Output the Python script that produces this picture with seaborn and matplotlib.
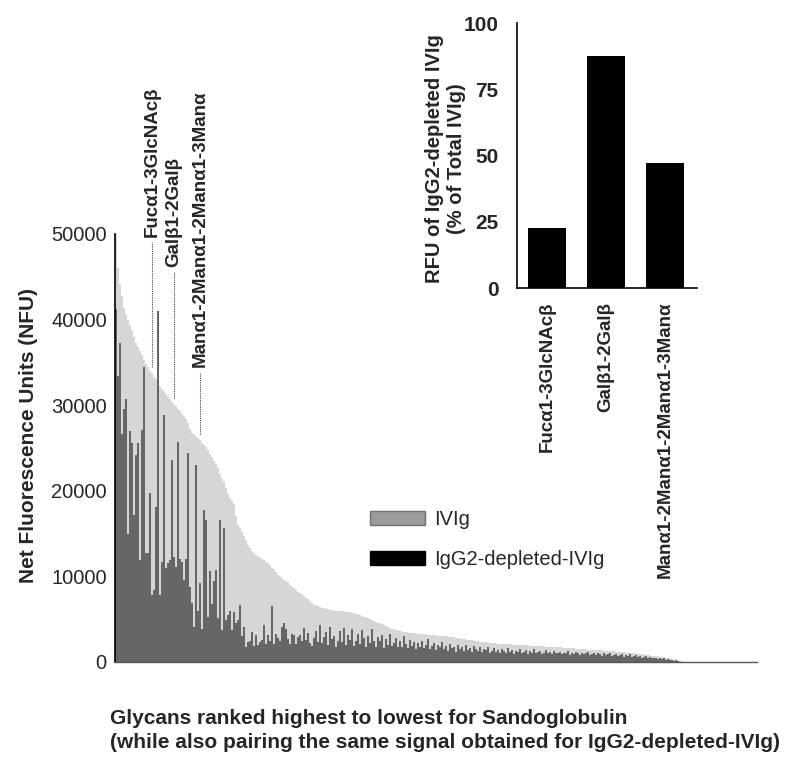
import numpy as np
import pandas as pd
import matplotlib
matplotlib.use('Agg')
import matplotlib.pyplot as plt
from matplotlib.patches import Patch
import seaborn as sns

# IVIg (Sandoglobulin) signal, glycans ranked highest -> lowest, in 1000 NFU
ivig_head = [50.0, 46.0, 44.2, 42.8, 41.4, 40.6, 40.0, 39.4, 38.8, 38.0,
             37.2, 36.8, 36.3, 35.9, 35.3, 34.8, 34.4, 34.0, 33.7, 33.3,
             33.0, 32.6, 32.2, 31.9, 31.6, 31.3, 31.0, 30.7, 30.4, 30.1,
             29.9, 29.6, 29.3, 29.0, 28.7, 28.4, 27.9, 27.2, 26.8, 26.6,
             26.4, 26.2, 25.9, 25.6, 25.4, 25.1, 24.7, 24.3, 23.9, 23.5,
             23.1, 22.6, 22.0, 21.4, 21.0, 20.3, 19.6, 19.2, 18.8, 18.4,
             17.0, 16.0, 15.6, 15.2, 14.7, 14.2, 13.7, 13.3, 13.0, 12.7,
             12.5, 12.3, 12.2, 12.0, 11.9, 11.7, 11.5, 11.3, 11.0, 10.8,
             10.5, 10.2, 10.0, 9.8, 9.6, 9.5, 9.3, 9.0, 8.8, 8.6,
             8.4, 8.2, 8.1, 7.9, 7.7, 7.5, 7.3, 7.1, 6.9, 6.7]
ivig_mid = [6.6, 6.5, 6.4, 6.3, 6.3, 6.2, 6.2, 6.1, 6.1, 6.0,
            6.0, 6.0, 5.9, 5.9, 5.9, 5.8, 5.8, 5.8, 5.7, 5.7,
            5.6, 5.6, 5.5, 5.4, 5.3, 5.2, 5.1, 5.0, 4.9, 4.8,
            4.7, 4.6, 4.5, 4.4, 4.3, 4.2, 4.1, 4.0, 3.9, 3.8,
            3.75, 3.7, 3.65, 3.6, 3.55, 3.5, 3.45, 3.42, 3.4, 3.38,
            3.35, 3.32, 3.3, 3.27, 3.25, 3.22, 3.2, 3.18, 3.15, 3.12,
            3.1, 3.07, 3.05, 3.02, 3.0, 2.97, 2.95, 2.92, 2.9, 2.87,
            2.84, 2.8, 2.76, 2.72, 2.68, 2.64, 2.6, 2.56, 2.52, 2.48,
            2.44, 2.4, 2.37, 2.34, 2.31, 2.28, 2.25, 2.22, 2.2, 2.18,
            2.16, 2.14, 2.12, 2.1, 2.08, 2.06, 2.05, 2.04, 2.03, 2.02]
ivig_tail = [2.0, 1.98, 1.97, 1.96, 1.94, 1.93, 1.92, 1.9, 1.89, 1.88,
             1.86, 1.85, 1.84, 1.83, 1.81, 1.8, 1.79, 1.78, 1.77, 1.76,
             1.75, 1.73, 1.71, 1.69, 1.67, 1.65, 1.63, 1.61, 1.59, 1.57,
             1.55, 1.53, 1.51, 1.5, 1.48, 1.47, 1.45, 1.44, 1.42, 1.41,
             1.4, 1.38, 1.36, 1.34, 1.32, 1.3, 1.28, 1.26, 1.24, 1.22,
             1.2, 1.18, 1.16, 1.14, 1.12, 1.1, 1.08, 1.06, 1.04, 1.02,
             1.0, 0.98, 0.95, 0.92, 0.88, 0.85, 0.82, 0.78, 0.75, 0.72,
             0.68, 0.65, 0.62, 0.58, 0.55, 0.5, 0.45, 0.4, 0.36, 0.32,
             0.28, 0.22, 0.16, 0.1]

# same glycans, IgG2-depleted IVIg, in 1000 NFU
depl_head = [41.2, 33.4, 37.3, 26.6, 29.5, 30.7, 15.0, 27.0, 25.6, 17.2,
             24.2, 25.6, 11.9, 27.1, 34.4, 12.7, 12.7, 19.7, 7.8, 8.4,
             18.1, 41.0, 7.8, 11.7, 28.9, 11.0, 11.5, 11.9, 23.6, 12.2,
             11.1, 25.7, 12.0, 11.7, 9.6, 12.0, 24.4, 8.8, 6.9, 4.1,
             23.0, 6.0, 9.2, 3.9, 17.8, 16.6, 5.3, 10.6, 6.8, 9.4,
             10.7, 5.1, 16.6, 3.7, 15.6, 4.9, 5.5, 6.0, 3.7, 5.8,
             4.5, 4.9, 6.7, 3.0, 4.1, 1.8, 2.3, 2.5, 3.5, 1.9,
             3.1, 2.0, 2.3, 2.6, 4.3, 2.1, 3.1, 2.5, 6.5, 2.1,
             3.3, 2.8, 2.5, 4.1, 4.5, 3.9, 2.7, 2.1, 3.3, 3.1,
             2.1, 2.9, 3.2, 2.4, 4.0, 2.6, 3.4, 2.2, 1.9, 2.8]
depl_mid = [3.6, 2.3, 4.3, 2.2, 2.9, 3.5, 2.0, 4.1, 2.7, 3.0,
            1.8, 2.5, 3.6, 2.3, 4.0, 2.0, 3.1, 2.6, 3.8, 1.9,
            2.4, 3.3, 2.1, 3.7, 2.8, 1.7, 3.0, 2.2, 3.9, 2.5,
            1.8, 2.9, 2.4, 3.1, 1.6, 2.7, 2.0, 3.3, 1.9, 2.2,
            2.8, 1.7, 2.5, 1.8, 3.0, 2.1, 1.6, 2.6, 1.9, 2.3,
            1.5, 2.2, 1.8, 2.4, 1.6, 2.0, 2.7, 1.5, 1.9, 2.2,
            1.4, 2.0, 1.7, 2.3, 1.5, 1.9, 1.3, 2.1, 1.6, 1.8,
            1.2, 2.0, 1.5, 1.8, 1.3, 2.0, 1.4, 1.6, 1.2, 1.9,
            1.5, 1.3, 1.7, 1.2, 1.5, 1.4, 1.8, 1.1, 1.3, 1.6,
            1.2, 1.4, 1.0, 1.5, 1.3, 1.1, 1.6, 1.2, 1.4, 0.9]
depl_tail = [1.3, 1.2, 1.5, 1.0, 1.2, 1.4, 0.9, 1.3, 1.1, 1.5,
             1.0, 1.2, 1.3, 0.9, 1.1, 1.4, 1.0, 1.2, 0.9, 1.3,
             1.1, 1.0, 1.2, 0.9, 1.1, 1.0, 1.3, 0.8, 1.1, 0.9,
             1.2, 1.0, 0.8, 1.1, 0.9, 1.0, 1.2, 0.8, 0.9, 1.1,
             0.8, 1.0, 0.9, 0.7, 1.0, 0.8, 0.9, 1.1, 0.7, 0.8,
             0.9, 0.7, 0.8, 0.9, 0.6, 0.8, 0.7, 0.9, 0.6, 0.7,
             0.8, 0.6, 0.7, 0.5, 0.6, 0.7, 0.4, 0.6, 0.5, 0.4,
             0.5, 0.3, 0.4, 0.3, 0.4, 0.2, 0.3, 0.2, 0.25, 0.15,
             0.2, 0.1, 0.0, 0.0]

glycans = ['Fucα1-3GlcNAcβ', 'Galβ1-2Galβ', 'Manα1-2Manα1-2Manα1-3Manα']
glycan_rank = [18, 29, 42]
pct_of_total = [22.6, 87.5, 47.0]

ivig = np.array(ivig_head + ivig_mid + ivig_tail) * 1000
depl = np.array(depl_head + depl_mid + depl_tail) * 1000
df = pd.DataFrame({'rank': np.arange(len(ivig)), 'ivig': ivig, 'depl': depl})
inset_df = pd.DataFrame({'glycan': glycans, 'pct': pct_of_total})

sns.set_style('white')
plt.rcParams['font.family'] = ['Liberation Sans', 'DejaVu Sans']

fig = plt.figure(figsize=(8, 7.67), dpi=100)
ax = fig.add_axes([0.144, 0.137, 0.8025, 0.558])

sns.barplot(data=df, x='rank', y='ivig', native_scale=True, color='#d6d6d6',
            saturation=1, width=0.85, linewidth=0, errorbar=None, ax=ax)
sns.barplot(data=df, x='rank', y='depl', native_scale=True, color='#666666',
            saturation=1, width=0.85, linewidth=0, errorbar=None, ax=ax)

ax.set_xlim(-0.5, 320.5)
ax.set_ylim(0, 50000)
ax.set_xticks([])
ax.set_xlabel('')
ax.set_yticks([0, 10000, 20000, 30000, 40000, 50000])
ax.set_yticklabels(['0', '10000', '20000', '30000', '40000', '50000'])
ax.tick_params(axis='y', direction='out', length=5, width=1, labelsize=14.5, pad=1, color='black')
for s in ['top', 'right']:
    ax.spines[s].set_visible(False)
ax.spines['left'].set_color('black')
ax.spines['left'].set_linewidth(1.2)
ax.spines['bottom'].set_color('#555555')
ax.spines['bottom'].set_linewidth(1)
ax.set_ylabel('Net Fluorescence Units (NFU)', fontsize=15, fontweight='bold')
ax.yaxis.set_label_coords(-0.12, 0.53)

# labelled glycans with dotted leaders
label_lift = [16000, 16000, 8500]
for name, r, lift in zip(glycans, glycan_rank, label_lift):
    top = df.ivig[r]
    ax.plot([r, r], [top + 700, top + lift - 600], ls=(0, (1, 1)), lw=0.8,
            color='#444444', clip_on=False)
    ax.text(r, top + lift, name, rotation=90, ha='center', va='bottom',
            fontsize=13.5, fontweight='bold', clip_on=False)

handles = [Patch(facecolor='#9b9b9b', edgecolor='#707070'),
           Patch(facecolor='black', edgecolor='black')]
ax.legend(handles, ['IVIg', 'IgG2-depleted-IVIg'], loc='upper left',
          bbox_to_anchor=(370 / 800, 1 - 510 / 767), bbox_transform=fig.transFigure,
          frameon=False, fontsize=14.5, handlelength=2.75, handleheight=0.75,
          handletextpad=0.45, labelspacing=1.05, borderpad=0, borderaxespad=0)

# inset: percentage of total IVIg signal
ax2 = fig.add_axes([0.646, 0.6245, 0.225, 0.3455])
sns.barplot(data=inset_df, x='glycan', y='pct', color='black', saturation=1,
            width=0.64, linewidth=0, errorbar=None, ax=ax2)
ax2.set_xlim(-0.51, 2.54)
ax2.set_ylim(0, 100)
ax2.set_yticks([0, 25, 50, 75, 100])
ax2.set_yticklabels(['0', '25', '50', '75', '100'], fontweight='bold')
ax2.tick_params(axis='y', direction='out', length=6, width=1, labelsize=15, pad=7)
ax2.tick_params(axis='x', length=0, pad=10)
ax2.set_xticks(range(len(glycans)))
ax2.set_xticklabels(glycans, rotation=90, fontsize=13.5, fontweight='bold', va='top')
ax2.set_xlabel('')
for s in ['top', 'right']:
    ax2.spines[s].set_visible(False)
for s in ['left', 'bottom']:
    ax2.spines[s].set_color('black')
    ax2.spines[s].set_linewidth(1.2)
ax2.set_ylabel('RFU of IgG2-depleted IVIg\n(% of Total IVIg)', fontsize=14.5,
               fontweight='bold', linespacing=1.2)
ax2.yaxis.set_label_coords(-0.28, 0.49)

fig.text(110 / 800, 1 - 718 / 767, 'Glycans ranked highest to lowest for Sandoglobulin',
         ha='left', va='center', fontsize=15, fontweight='bold')
fig.text(110 / 800, 1 - 743 / 767,
         '(while also pairing the same signal obtained for IgG2-depleted-IVIg)',
         ha='left', va='center', fontsize=15, fontweight='bold')

fig.savefig('out.png', dpi=100)
